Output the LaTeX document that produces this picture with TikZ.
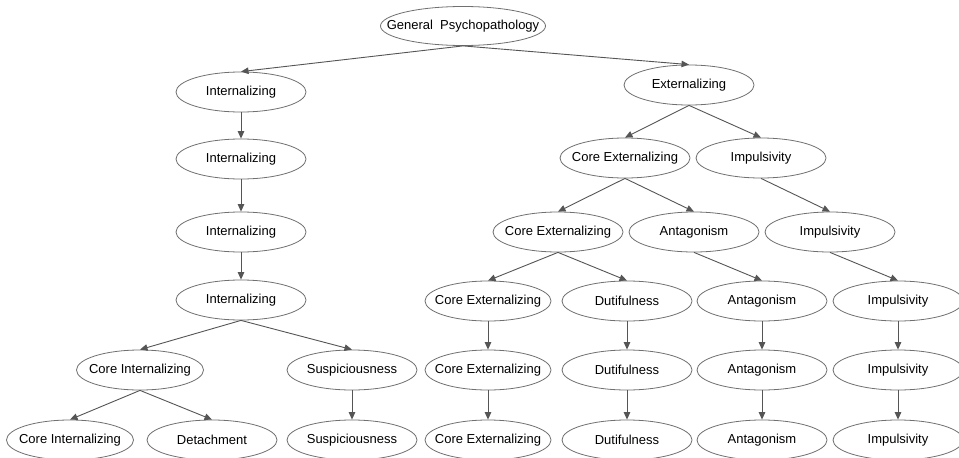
\documentclass[tikz,border=0pt]{standalone}
\usepackage{fontspec}
\setmainfont{Liberation Sans}
\usetikzlibrary{shapes.geometric,arrows.meta}
\definecolor{edgegray}{HTML}{555555}
\definecolor{bordergray}{HTML}{707070}
\newcommand{\lbl}[1]{\makebox[0pt][c]{#1}}
\tikzset{
  x=1pt, y=-1pt,
  vnode/.style={ellipse, draw=bordergray, line width=0.8pt, minimum width=130pt, minimum height=40pt, inner sep=0pt, font=\fontsize{13}{15}\selectfont, text=black},
  conn/.style={draw=edgegray, line width=0.9pt, -{Triangle[length=7.5pt,width=6.5pt]}},
}
\begin{document}
\begin{tikzpicture}
\useasboundingbox (0,0) rectangle (959,458);
\clip (0,0) rectangle (959,458);
\fill[white] (0,0) rectangle (959,458);
% root
\node[vnode, minimum width=165pt, minimum height=39pt] (gp) at (463,26) {\lbl{General\ \ Psychopathology}};
% left branch
\node[vnode] (int1) at (241,92) {\lbl{Internalizing}};
\node[vnode] (int2) at (241,159) {\lbl{Internalizing}};
\node[vnode] (int3) at (241,232) {\lbl{Internalizing}};
\node[vnode] (int4) at (241,300) {\lbl{Internalizing}};
\node[vnode, minimum width=127pt] (ci5) at (140,370) {\lbl{Core Internalizing}};
\node[vnode] (sus5) at (352,370) {\lbl{Suspiciousness}};
\node[vnode, minimum width=127pt] (ci6) at (70,440) {\lbl{Core Internalizing}};
\node[vnode] (det6) at (212,440) {\lbl{Detachment}};
\node[vnode] (sus6) at (352,440) {\lbl{Suspiciousness}};
% right branch
\node[vnode] (ext) at (689,85) {\lbl{Externalizing}};
\node[vnode] (ce2) at (625,158) {\lbl{Core Externalizing}};
\node[vnode] (imp2) at (761,158) {\lbl{Impulsivity}};
\node[vnode] (ce3) at (558,232) {\lbl{Core Externalizing}};
\node[vnode] (ant3) at (694,232) {\lbl{Antagonism}};
\node[vnode] (imp3) at (830,232) {\lbl{Impulsivity}};
\node[vnode, minimum width=126pt] (ce4) at (488,301) {\lbl{Core Externalizing}};
\node[vnode] (dut4) at (627,301) {\lbl{Dutifulness}};
\node[vnode] (ant4) at (762,301) {\lbl{Antagonism}};
\node[vnode] (imp4) at (898,301) {\lbl{Impulsivity}};
\node[vnode, minimum width=126pt] (ce5) at (488,370) {\lbl{Core Externalizing}};
\node[vnode] (dut5) at (627,370) {\lbl{Dutifulness}};
\node[vnode] (ant5) at (762,370) {\lbl{Antagonism}};
\node[vnode] (imp5) at (898,370) {\lbl{Impulsivity}};
\node[vnode, minimum width=126pt] (ce6) at (488,440) {\lbl{Core Externalizing}};
\node[vnode] (dut6) at (627,440) {\lbl{Dutifulness}};
\node[vnode] (ant6) at (762,440) {\lbl{Antagonism}};
\node[vnode] (imp6) at (898,440) {\lbl{Impulsivity}};
% connectors
\draw[conn] (gp.south) -- (int1.north);
\draw[conn] (gp.south) -- (ext.north);
\draw[conn] (int1.south) -- (int2.north);
\draw[conn] (int2.south) -- (int3.north);
\draw[conn] (int3.south) -- (int4.north);
\draw[conn] (int4.south) -- (ci5.north);
\draw[conn] (int4.south) -- (sus5.north);
\draw[conn] (ci5.south) -- (ci6.north);
\draw[conn] (ci5.south) -- (det6.north);
\draw[conn] (sus5.south) -- (sus6.north);
\draw[conn] (ext.south) -- (ce2.north);
\draw[conn] (ext.south) -- (imp2.north);
\draw[conn] (ce2.south) -- (ce3.north);
\draw[conn] (ce2.south) -- (ant3.north);
\draw[conn] (imp2.south) -- (imp3.north);
\draw[conn] (ce3.south) -- (ce4.north);
\draw[conn] (ce3.south) -- (dut4.north);
\draw[conn] (ant3.south) -- (ant4.north);
\draw[conn] (imp3.south) -- (imp4.north);
\draw[conn] (ce4.south) -- (ce5.north);
\draw[conn] (dut4.south) -- (dut5.north);
\draw[conn] (ant4.south) -- (ant5.north);
\draw[conn] (imp4.south) -- (imp5.north);
\draw[conn] (ce5.south) -- (ce6.north);
\draw[conn] (dut5.south) -- (dut6.north);
\draw[conn] (ant5.south) -- (ant6.north);
\draw[conn] (imp5.south) -- (imp6.north);
\end{tikzpicture}
\end{document}
